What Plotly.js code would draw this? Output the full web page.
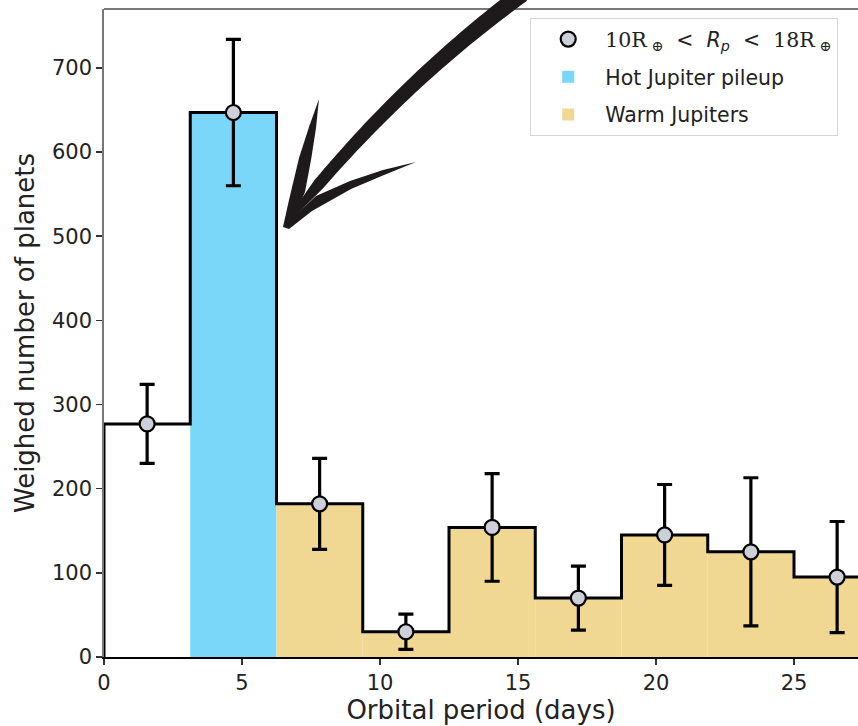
<!DOCTYPE html>
<html>
<head>
<meta charset="utf-8">
<script src="https://cdn.plot.ly/plotly-3.0.1.min.js"></script>
<style>html,body{margin:0;padding:0;background:#fff;}#chart{width:858px;height:726px;}</style>
</head>
<body>
<div id="chart"></div>
<script>
// ---- data ----
const binEdges = [0, 3.125, 6.25, 9.375, 12.5, 15.625, 18.75, 21.875, 25, 28.125];
const counts   = [277, 647, 182, 30, 154, 70, 145, 125, 95];
const errors   = [47, 87, 54, 21, 64, 38, 60, 88, 66];
const regions  = ["none", "hot", "warm", "warm", "warm", "warm", "warm", "warm", "warm"];
const xTicks   = [0, 5, 10, 15, 20, 25];
const yTicks   = [0, 100, 200, 300, 400, 500, 600, 700];
const seriesName = '<span style="font-family:\'DejaVu Serif\'">10R<sub> ⊕</sub></span>&nbsp;&nbsp;&lt;&nbsp;&nbsp;<i>R<sub>p</sub></i>&nbsp;&nbsp;&lt;&nbsp;&nbsp;<span style="font-family:\'DejaVu Serif\'">18R<sub> ⊕</sub></span>';
const hotName  = "Hot Jupiter pileup";
const warmName = "Warm Jupiters";

const centers = counts.map((_, i) => (binEdges[i] + binEdges[i + 1]) / 2);
const widths  = counts.map((_, i) => binEdges[i + 1] - binEdges[i]);

function pick(tag) {
  const idx = regions.map((r, i) => r === tag ? i : -1).filter(i => i >= 0);
  return {x: idx.map(i => centers[i]), y: idx.map(i => counts[i]), w: idx.map(i => widths[i])};
}
const hot = pick("hot"), warm = pick("warm");

// step outline
const stepX = [binEdges[0]].concat(binEdges);
const stepY = [0].concat(counts, [counts[counts.length - 1]]);

const traces = [
  {type: "bar", x: hot.x, y: hot.y, width: hot.w, name: hotName,
   marker: {color: "#7ad7f9", line: {width: 0}}, legendrank: 2, legendgroup: "b", hoverinfo: "skip"},
  {type: "bar", x: warm.x, y: warm.y, width: warm.w, name: warmName,
   marker: {color: "#f0d792", line: {width: 0}}, legendrank: 3, legendgroup: "c", hoverinfo: "skip"},
  {type: "scatter", mode: "lines", x: stepX, y: stepY, line: {shape: "hv", color: "#000", width: 3},
   showlegend: false, hoverinfo: "skip"},
  {type: "scatter", mode: "markers", x: centers, y: counts, name: seriesName,
   error_y: {type: "data", array: errors, visible: true, color: "#000", thickness: 3.2, width: 7.5},
   marker: {size: 15, color: "#cdd0d6", line: {color: "#000", width: 2.2}},
   legendrank: 1, legendgroup: "a", cliponaxis: false}
];

// ---- decorative hand-drawn arrow (pixel space -> paper space) ----
const L = 104, T = 9, W = 754, H = 648;
const px = x => ((x - L) / W).toFixed(5);
const py = y => ((T + H - y) / H).toFixed(5);
function poly(pts) {
  return pts.map((p, i) => (i ? "L" : "M") + px(p[0]) + "," + py(p[1])).join(" ") + " Z";
}
const P0 = [522, -6], C = [392, 90], P2 = [287, 223];
const left = [], right = [];
const N = 40;
for (let k = 0; k <= N; k++) {
  const t = k / N, u = 1 - t;
  const bx = u * u * P0[0] + 2 * u * t * C[0] + t * t * P2[0];
  const by = u * u * P0[1] + 2 * u * t * C[1] + t * t * P2[1];
  let dx = 2 * u * (C[0] - P0[0]) + 2 * t * (P2[0] - C[0]);
  let dy = 2 * u * (C[1] - P0[1]) + 2 * t * (P2[1] - C[1]);
  const len = Math.hypot(dx, dy); dx /= len; dy /= len;
  let w = t <= 0.85 ? 17 - 6 * t : 11.9 - (t - 0.85) / 0.15 * 9;
  const nx = -dy, ny = dx;
  left.push([bx + nx * w / 2, by + ny * w / 2]);
  right.push([bx - nx * w / 2, by - ny * w / 2]);
}
const bodyPts = left.concat(right.reverse());
const barbL = [[283, 227], [289, 200], [299, 158], [309, 127], [319, 99], [316, 128], [311, 160], [305, 192], [292, 222]];
const barbR = [[283, 227], [316, 196], [350, 181], [383, 170], [416, 162], [384, 175], [351, 189], [312, 211], [289, 229]];

const shapes = [
  {type: "line", xref: "paper", yref: "paper", x0: 0, x1: 1, y0: 1, y1: 1, line: {color: "#777", width: 1.8}},
  {type: "path", xref: "paper", yref: "paper", path: poly(bodyPts), fillcolor: "#1e1a1b", line: {width: 0}, layer: "above"},
  {type: "path", xref: "paper", yref: "paper", path: poly(barbL), fillcolor: "#1e1a1b", line: {width: 0}, layer: "above"},
  {type: "path", xref: "paper", yref: "paper", path: poly(barbR), fillcolor: "#1e1a1b", line: {width: 0}, layer: "above"}
];

const layout = {
  width: 858, height: 726,
  margin: {l: L, r: 0, t: T, b: 726 - T - H},
  paper_bgcolor: "#fff", plot_bgcolor: "#fff",
  font: {family: "DejaVu Sans", color: "#222", size: 21},
  showlegend: true,
  barmode: "overlay",
  xaxis: {
    range: [0, W / 27.6], tickvals: xTicks, ticktext: xTicks.map(String),
    showgrid: false, zeroline: false, showline: true, linecolor: "#000", linewidth: 2,
    ticks: "outside", ticklen: 6, tickwidth: 1.5, tickcolor: "#333",
    tickfont: {size: 21, color: "#222"},
    title: {text: "Orbital period (days)", font: {size: 26, color: "#222"}, standoff: 6}
  },
  yaxis: {
    range: [0, 770], tickvals: yTicks, ticktext: yTicks.map(String),
    showgrid: false, zeroline: false, showline: true, linecolor: "#777", linewidth: 1.8,
    ticks: "outside", ticklen: 6, tickwidth: 1.5, tickcolor: "#333",
    tickfont: {size: 21, color: "#222"},
    title: {text: "Weighed number of planets", font: {size: 26, color: "#222"}, standoff: 10}
  },
  legend: {
    x: 0.565, y: 0.986, xanchor: "left", yanchor: "top",
    bgcolor: "#fff", bordercolor: "#d6d6d6", borderwidth: 1.2,
    font: {size: 20.5, color: "#222"}, itemwidth: 64,
    traceorder: "grouped", tracegroupgap: 8
  },
  shapes: shapes
};

Plotly.newPlot("chart", traces, layout, {staticPlot: true, displayModeBar: false});
</script>
</body>
</html>
